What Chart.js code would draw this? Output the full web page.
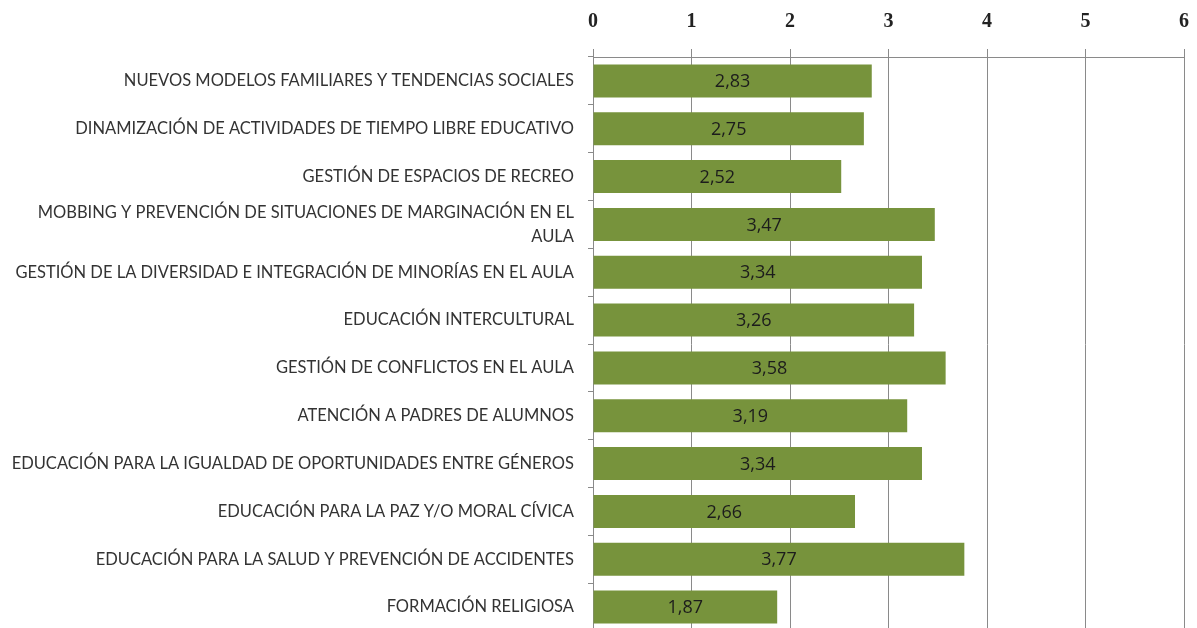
<!DOCTYPE html>
<html lang="es">
<head>
    <meta charset="UTF-8">
    <title>Formación demandada</title>
    <style>
        html, body { margin: 0; padding: 0; background: #fff; overflow: hidden; }
        #wrap { width: 1197px; height: 631px; }
    </style>
</head>
<body>
    <div id="wrap"><canvas id="chart" width="1197" height="631"></canvas></div>

    <script src="https://cdn.jsdelivr.net/npm/chart.js"></script>
    <script>
        // categories (top to bottom) and their mean scores
        const categories = [
            "NUEVOS MODELOS FAMILIARES Y TENDENCIAS SOCIALES",
            "DINAMIZACIÓN DE ACTIVIDADES DE TIEMPO LIBRE EDUCATIVO",
            "GESTIÓN DE ESPACIOS DE RECREO",
            ["MOBBING Y PREVENCIÓN DE SITUACIONES DE MARGINACIÓN EN EL", "AULA"],
            "GESTIÓN DE LA DIVERSIDAD E INTEGRACIÓN DE MINORÍAS EN EL AULA",
            "EDUCACIÓN INTERCULTURAL",
            "GESTIÓN DE CONFLICTOS EN EL AULA",
            "ATENCIÓN A PADRES DE ALUMNOS",
            "EDUCACIÓN PARA LA IGUALDAD DE OPORTUNIDADES ENTRE GÉNEROS",
            "EDUCACIÓN PARA LA PAZ Y/O MORAL CÍVICA",
            "EDUCACIÓN PARA LA SALUD Y PREVENCIÓN DE ACCIDENTES",
            "FORMACIÓN RELIGIOSA"
        ];
        const scores = [2.83, 2.75, 2.52, 3.47, 3.34, 3.26, 3.58, 3.19, 3.34, 2.66, 3.77, 1.87];
        const xTicks = [0, 1, 2, 3, 4, 5, 6];

        // writes the value (decimal comma) in the middle of each bar
        const barValues = {
            id: 'barValues',
            afterDatasetsDraw(chart) {
                const ctx = chart.ctx;
                const meta = chart.getDatasetMeta(0);
                ctx.save();
                ctx.font = '18px "Open Sans", sans-serif';
                ctx.fillStyle = '#1c1c1c';
                ctx.textAlign = 'center';
                ctx.textBaseline = 'middle';
                meta.data.forEach((bar, i) => {
                    const mid = (bar.x + bar.base) / 2;
                    ctx.fillText(scores[i].toFixed(2).replace('.', ','), mid, bar.y + 1);
                });
                ctx.restore();
            }
        };

        new Chart(document.getElementById('chart'), {
            type: 'bar',
            data: {
                labels: categories,
                datasets: [{
                    data: scores,
                    backgroundColor: '#77933C',
                    borderWidth: 0,
                    barPercentage: 0.69,
                    categoryPercentage: 1
                }]
            },
            options: {
                indexAxis: 'y',
                responsive: false,
                animation: false,
                layout: { padding: { top: 0, right: 13, left: 0, bottom: 0 } },
                plugins: {
                    legend: { display: false },
                    tooltip: { enabled: false }
                },
                scales: {
                    x: {
                        position: 'top',
                        min: xTicks[0],
                        max: xTicks[xTicks.length - 1],
                        afterBuildTicks: axis => { axis.ticks = xTicks.map(v => ({ value: v })); },
                        afterFit: axis => {
                            axis.height = 57;
                            axis.paddingLeft = 0;
                            axis.paddingRight = 0;
                        },
                        ticks: {
                            padding: 15,
                            color: '#222',
                            font: { family: '"Liberation Serif", serif', size: 20, weight: 'bold' }
                        },
                        grid: { color: '#8a8a8a', lineWidth: 1, tickLength: 8 },
                        border: { color: '#8a8a8a' }
                    },
                    y: {
                        afterFit: axis => {
                            axis.width = 593;
                            axis.paddingTop = 0;
                            axis.paddingBottom = 0;
                        },
                        ticks: {
                            autoSkip: false,
                            padding: 14,
                            color: '#333',
                            font: { family: 'Lato, sans-serif', size: 16.5, lineHeight: 1.45 }
                        },
                        grid: { offset: true, drawOnChartArea: false, tickLength: 5, color: '#8a8a8a' },
                        border: { color: '#8a8a8a' }
                    }
                }
            },
            plugins: [barValues]
        });
    </script>
</body>
</html>
